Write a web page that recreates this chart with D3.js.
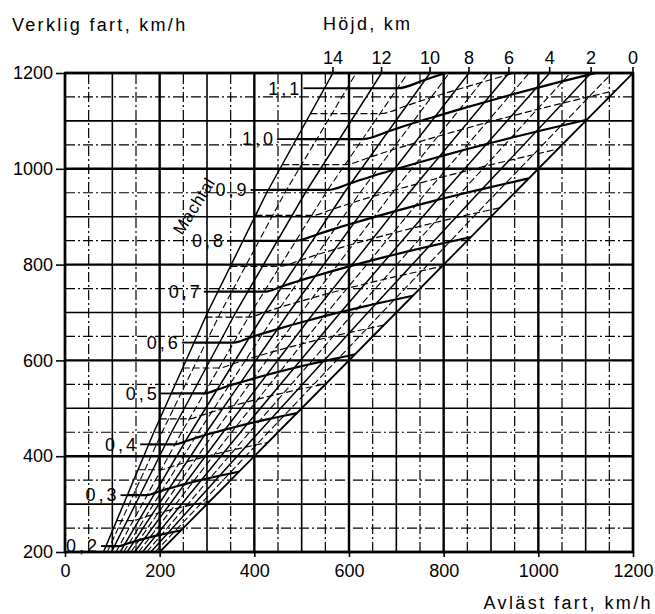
<!DOCTYPE html>
<html>
<head>
<meta charset="utf-8">
<script src="https://cdn.jsdelivr.net/npm/d3@7"></script>
<style>
  body { margin: 0; background: #fff; }
  text { font-family: "Liberation Sans", Arial, sans-serif; fill: #000; }
</style>
</head>
<body>
<div id="chart"></div>
<script>
// Values
// ================================
var hojdKm = [0, 1, 2, 3, 4, 5, 6, 7, 8, 9, 10, 11, 12, 13, 14];

// true speed levels where the altitude lines were read
var verkligNivaer = [200, 450, 700, 950, 1200];

// indicated speed (km/h) on each altitude line, one array per true-speed level
var avlast200  = [200, 190.6, 181.4, 172.5, 163.8, 155.3, 147.1, 139.1, 131.4, 123.9, 116.6, 107.8, 98.1, 89.3, 81.3];
var avlast450  = [450, 429.5, 409.5, 389.9, 370.7, 352.0, 333.8, 316.1, 298.8, 282.0, 265.7, 246.5, 225.1, 205.0, 187.6];
var avlast700  = [700, 670.0, 639.9, 610.6, 582.0, 553.8, 526.3, 499.3, 473.0, 447.3, 422.2, 393.3, 360.6, 328.8, 301.2];
var avlast950  = [950, 911.7, 873.9, 836.4, 799.5, 763.0, 727.2, 691.8, 657.2, 623.2, 589.9, 551.0, 507.6, 464.4, 426.1];
var avlast1200 = [1200, 1155.6, 1111.5, 1067.6, 1024.0, 980.6, 937.8, 895.4, 853.4, 812.0, 771.2, 724.4, 668.8, 615.2, 566.1];

// speed of sound (Mach 1 line), km/h, at each altitude
var ljudfart = [1225, 1211, 1197, 1183, 1168.5, 1154, 1139, 1124, 1109, 1094, 1078, 1062, 1062, 1062, 1062];

var machtal = [0.2, 0.25, 0.3, 0.35, 0.4, 0.45, 0.5, 0.55, 0.6, 0.65, 0.7, 0.75, 0.8, 0.85, 0.9, 0.95, 1.0, 1.05, 1.1];
var machTiondelar = [0.2, 0.3, 0.4, 0.5, 0.6, 0.7, 0.8, 0.9, 1.0, 1.1];
var machEtiketter = ["0,2", "0,3", "0,4", "0,5", "0,6", "0,7", "0,8", "0,9", "1,0", "1,1"];

var xTicks = [0, 200, 400, 600, 800, 1000, 1200];
var yTicks = [200, 400, 600, 800, 1000, 1200];
var hojdTicks = [0, 2, 4, 6, 8, 10, 12, 14];

// Step 1: chart setup
// ================================
var svgWidth = 655;
var svgHeight = 614;

var x = d3.scaleLinear().domain([0, 1200]).range([65, 633]);
var y = d3.scaleLinear().domain([200, 1200]).range([552, 73]);

var svg = d3.select("#chart")
  .append("svg")
  .attr("width", svgWidth)
  .attr("height", svgHeight);

svg.append("defs").append("clipPath")
  .attr("id", "plotClip")
  .append("rect")
  .attr("x", x(0))
  .attr("y", y(1200))
  .attr("width", x(1200) - x(0))
  .attr("height", y(200) - y(1200));

// Step 2: grid
// ================================
function gridStyle(sel, v) {
  if (v % 200 === 0) {
    sel.attr("stroke-width", 2.4);
  } else if (v % 100 === 0) {
    sel.attr("stroke-width", 1.6);
  } else {
    sel.attr("stroke-width", 1.2).attr("stroke-dasharray", "10,3,2,3");
  }
}

var gridGroup = svg.append("g").attr("stroke", "#000").attr("fill", "none");

d3.range(0, 1201, 50).forEach(function(v) {
  gridGroup.append("line")
    .attr("x1", x(v)).attr("x2", x(v))
    .attr("y1", y(200)).attr("y2", y(1200))
    .call(gridStyle, v);
});

d3.range(200, 1201, 50).forEach(function(v) {
  gridGroup.append("line")
    .attr("x1", x(0)).attr("x2", x(1200))
    .attr("y1", y(v)).attr("y2", y(v))
    .call(gridStyle, v);
});

// Step 3: altitude lines and Mach lines
// ================================
var kolumner = [avlast200, avlast450, avlast700, avlast950, avlast1200];

// one scale per altitude: true speed -> indicated speed
var hojdSkalor = hojdKm.map(function(h, i) {
  return d3.scaleLinear()
    .domain(verkligNivaer)
    .range(kolumner.map(function(k) { return k[i]; }));
});

var chartGroup = svg.append("g").attr("clip-path", "url(#plotClip)").attr("fill", "none").attr("stroke", "#000");

var hojdLinje = d3.line()
  .x(d => x(d[0]))
  .y(d => y(d[1]));

hojdKm.forEach(function(h, i) {
  var pts = verkligNivaer.map(function(t, j) { return [kolumner[j][i], t]; });
  var p = chartGroup.append("path")
    .attr("d", hojdLinje(pts));
  if (h === 0) {
    p.attr("stroke-width", 1.8);
  } else if (h % 2 === 0) {
    p.attr("stroke-width", 1.5);
  } else {
    p.attr("stroke-width", 1.1).attr("stroke-dasharray", "7,3");
  }
});

var machLinje = d3.line()
  .x(d => x(d[0]))
  .y(d => y(d[1]))
  .curve(d3.curveMonotoneX);

function machPunkter(m) {
  return hojdKm.map(function(h, i) {
    var v = m * ljudfart[i];
    return [hojdSkalor[i](v), v];
  }).reverse();
}

machtal.forEach(function(m) {
  var tiondel = Math.abs(m * 10 - Math.round(m * 10)) < 1e-6;
  var p = chartGroup.append("path")
    .attr("d", machLinje(machPunkter(m)));
  if (tiondel) {
    p.attr("stroke-width", 2.2);
  } else {
    p.attr("stroke-width", 1.2).attr("stroke-dasharray", "7,3");
  }
});

// Mach labels with short leaders
var machLabelGroup = svg.append("g");
machTiondelar.forEach(function(m, i) {
  var v = m * ljudfart[14];
  var xs = x(hojdSkalor[14](v));
  var gap = 6 + (m - 0.2) * 18;
  machLabelGroup.append("line")
    .attr("x1", xs - gap + 1).attr("x2", xs)
    .attr("y1", y(v)).attr("y2", y(v))
    .attr("stroke", "#000").attr("stroke-width", 1.8);
  machLabelGroup.append("text")
    .attr("x", xs - gap)
    .attr("y", y(v))
    .attr("dy", "0.35em")
    .attr("text-anchor", "end")
    .attr("font-size", 18)
    .attr("letter-spacing", 3)
    .text(machEtiketter[i]);
});

svg.append("text")
  .attr("transform", "translate(194,206) rotate(-58)")
  .attr("text-anchor", "middle")
  .attr("dy", "0.35em")
  .attr("font-size", 17)
  .attr("letter-spacing", 0.5)
  .text("Machtal");

// Step 4: frame and axes
// ================================
svg.append("rect")
  .attr("x", x(0)).attr("y", y(1200))
  .attr("width", x(1200) - x(0)).attr("height", y(200) - y(1200))
  .attr("fill", "none").attr("stroke", "#000").attr("stroke-width", 2.4);

var leftAxis = d3.axisLeft(y).tickValues(yTicks).tickFormat(d3.format("d")).tickSize(9).tickPadding(3);
var yAxis = svg.append("g")
  .attr("transform", `translate(${x(0)}, 0)`)
  .call(leftAxis);
yAxis.select(".domain").remove();
yAxis.attr("font-size", 18).attr("font-family", null);
yAxis.selectAll("line").attr("stroke-width", 1.6);

var bottomAxis = d3.axisBottom(x).tickValues(xTicks).tickFormat(d3.format("d")).tickSize(5).tickPadding(7);
var xAxis = svg.append("g")
  .attr("transform", `translate(0, ${y(200)})`)
  .call(bottomAxis);
xAxis.select(".domain").remove();
xAxis.attr("font-size", 18).attr("font-family", null);
xAxis.selectAll("line").attr("stroke-width", 1.6);

// altitude ticks along the top
var topGroup = svg.append("g");
hojdTicks.forEach(function(h) {
  var xt = x(avlast1200[h]);
  topGroup.append("line")
    .attr("x1", xt).attr("x2", xt)
    .attr("y1", y(1200) - 6).attr("y2", y(1200))
    .attr("stroke", "#000").attr("stroke-width", 1.6);
  topGroup.append("text")
    .attr("x", xt)
    .attr("y", 64)
    .attr("text-anchor", "middle")
    .attr("font-size", 18)
    .text(h);
});

// titles
svg.append("text")
  .attr("x", 12).attr("y", 31)
  .attr("font-size", 18)
  .attr("letter-spacing", 2.3)
  .text("Verklig fart, km/h");

svg.append("text")
  .attr("x", 323).attr("y", 30)
  .attr("font-size", 18)
  .attr("letter-spacing", 2.3)
  .text("Höjd, km");

svg.append("text")
  .attr("x", 653).attr("y", 609)
  .attr("text-anchor", "end")
  .attr("font-size", 18)
  .attr("letter-spacing", 2.4)
  .text("Avläst fart, km/h");
</script>
</body>
</html>
